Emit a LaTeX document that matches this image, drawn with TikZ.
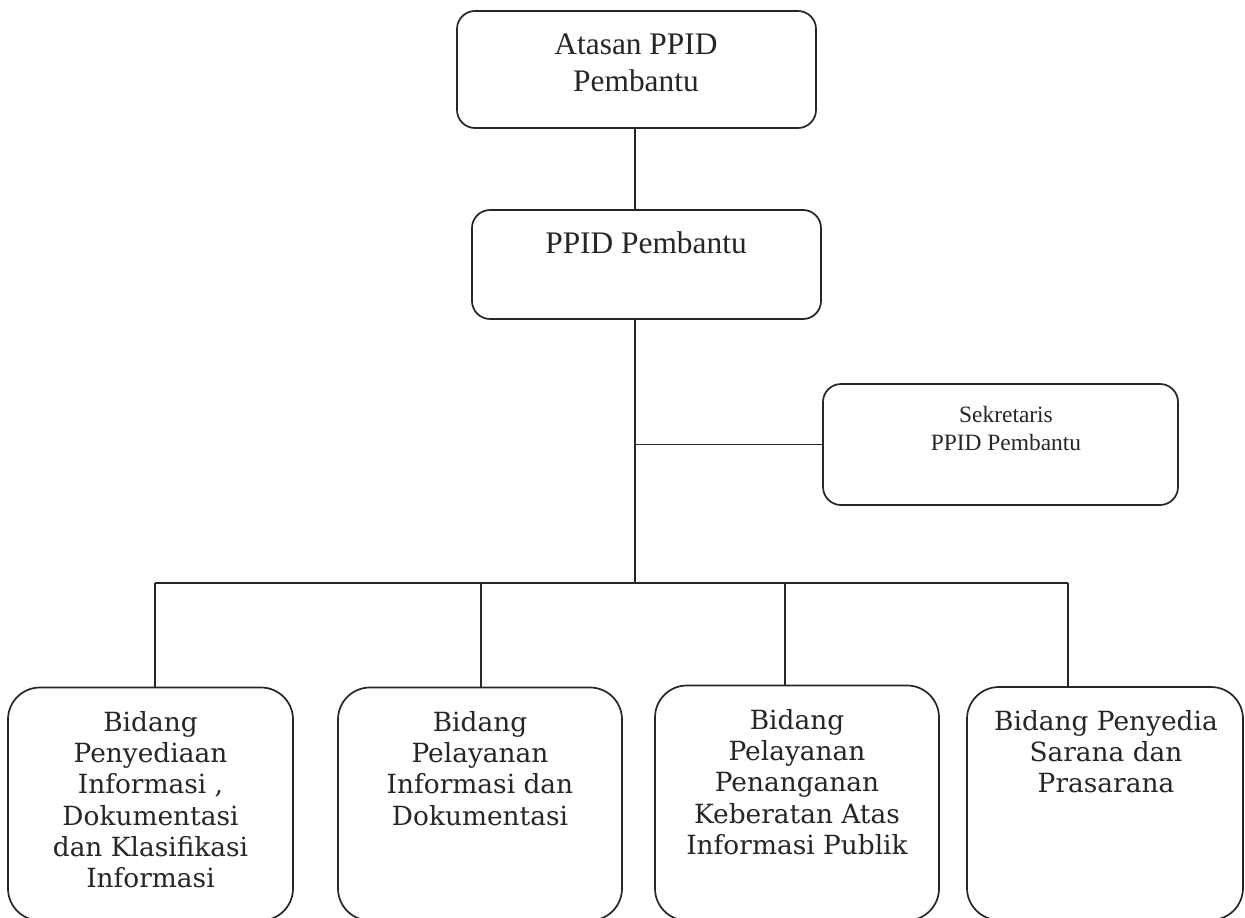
\documentclass[tikz,border=0pt]{standalone}
\usepackage{fontspec}
\setmainfont{Liberation Serif}
\newfontfamily\bookfont{DejaVu Serif}
\begin{document}
\begin{tikzpicture}[x=1bp,y=-1bp,
  box/.style={draw=black!85, line width=1.7bp, rounded corners=18bp, inner sep=0pt},
  bigbox/.style={draw=black!85, line width=1.7bp, rounded corners=32bp, inner sep=0pt},
  conn/.style={draw=black!85, line width=1.7bp},
  toptxt/.style={inner sep=0pt, anchor=north, align=center, font=\fontsize{31.5}{37}\selectfont, text=black!85},
  sektxt/.style={inner sep=0pt, anchor=north, align=center, font=\fontsize{23.5}{28.5}\selectfont, text=black!85},
  bottxt/.style={inner sep=0pt, anchor=north, align=center, font=\bookfont\fontsize{26.5}{31.4}\selectfont, text=black!85}
]
\useasboundingbox (0,0) rectangle (1245,918);
\fill[white] (0,0) rectangle (1245,918);
\clip (0,0) rectangle (1245,918);

% boxes
\node[box, minimum width=359bp, minimum height=117bp] (atasan) at (636.5,69.5) {};
\node[box, minimum width=349bp, minimum height=109bp] (ppid) at (646.5,264.5) {};
\node[box, minimum width=355bp, minimum height=121bp] (sek) at (1000.5,444.5) {};
\node[bigbox, minimum width=285bp, minimum height=233bp] (b1) at (150.5,804) {};
\node[bigbox, minimum width=284bp, minimum height=233bp] (b2) at (480,804) {};
\node[bigbox, minimum width=284bp, minimum height=235bp] (b3) at (797,803) {};
\node[bigbox, minimum width=276bp, minimum height=233bp] (b4) at (1105,803.5) {};

% texts
\node[toptxt] (atasanT) at (636,34) {Atasan PPID\\Pembantu};
\node[toptxt] (ppidT) at (646,232) {PPID Pembantu};
\node[sektxt] (sekT) at (1006,406) {Sekretaris\\PPID Pembantu};
\node[bottxt] (b1T) at (150.5,711) {Bidang\\Penyediaan\\Informasi ,\\Dokumentasi\\dan Klasifikasi\\Informasi};
\node[bottxt] (b2T) at (480,711) {Bidang\\Pelayanan\\Informasi dan\\Dokumentasi};
\node[bottxt] (b3T) at (797,709) {Bidang\\Pelayanan\\Penanganan\\Keberatan Atas\\Informasi Publik};
\node[bottxt] (b4T) at (1106,710) {Bidang Penyedia\\Sarana dan\\Prasarana};

% connectors
\coordinate (trunk) at (635,583);
\coordinate (d1) at (155,583);
\coordinate (d2) at (481,583);
\coordinate (d3) at (785,583);
\coordinate (d4) at (1068,583);
\draw[conn] (atasan.south -| trunk) -- (ppid.north -| trunk);
\draw[conn] (ppid.south -| trunk) -- (trunk);
\draw[conn] (trunk |- sek.west) -- (sek.west);
\draw[conn] (d1) -- (d4);
\draw[conn] (d1) -- (d1 |- b1.north);
\draw[conn] (d2) -- (d2 |- b2.north);
\draw[conn] (d3) -- (d3 |- b3.north);
\draw[conn] (d4) -- (d4 |- b4.north);
\end{tikzpicture}
\end{document}
